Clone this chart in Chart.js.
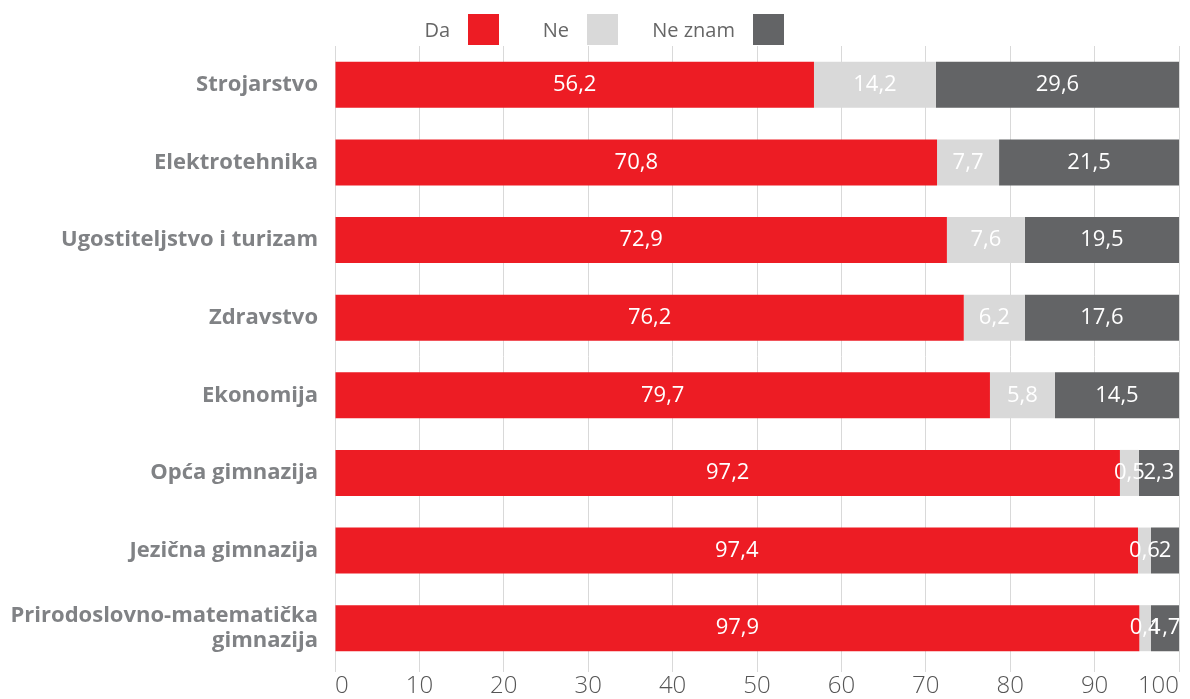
<!DOCTYPE html>
<html><head><meta charset="utf-8">
<script src="https://cdn.jsdelivr.net/npm/chart.js@4/dist/chart.umd.min.js"></script>
<style>
html,body{margin:0;padding:0;background:#fff;}
#wrap{position:relative;width:1190px;height:699px;}
#legend{position:absolute;top:14px;left:0;width:1190px;height:31px;font-family:"Open Sans",sans-serif;font-size:20px;color:#666;}
.lt{position:absolute;top:0;height:31px;line-height:31px;text-align:right;width:200px;}
.lb{position:absolute;top:0;width:31px;height:31px;}
canvas{position:absolute;left:0;top:0;}
</style></head>
<body><div id="wrap"><canvas id="c" width="1190" height="699"></canvas><div id="legend"></div></div>
<script>
const categories = ["Strojarstvo","Elektrotehnika","Ugostiteljstvo i turizam","Zdravstvo","Ekonomija","Opća gimnazija","Jezična gimnazija",["Prirodoslovno-matematička","gimnazija"]];
const seriesNames = ["Da","Ne","Ne znam"];
// bar lengths as drawn in the picture
const daValues    = [56.75, 71.33, 72.5, 74.5, 77.6, 93.0, 95.14, 95.3];
const neValues    = [14.45, 7.35, 9.24, 7.23, 7.7, 2.25, 1.54, 1.38];
const neZnamValues= [28.8, 21.32, 18.26, 18.27, 14.7, 4.75, 3.32, 3.32];
// value labels as printed in the picture
const daLabels    = ["56,2","70,8","72,9","76,2","79,7","97,2","97,4","97,9"];
const neLabels    = ["14,2","7,7","7,6","6,2","5,8","0,5","0,6","0,4"];
const neZnamLabels= ["29,6","21,5","19,5","17,6","14,5","2,3","2","1,7"];
const xTicks = [0,10,20,30,40,50,60,70,80,90,100];

const colors = ["#ED1C24","#D9D9D9","#636466"];
const labelSets = [daLabels, neLabels, neZnamLabels];

// legend (text before box)
const legendBoxX = [468, 587, 753];
const lg = document.getElementById('legend');
seriesNames.forEach((n,i)=>{
  const t=document.createElement('div'); t.className='lt'; t.textContent=n;
  t.style.left=(legendBoxX[i]-18-200)+'px'; lg.appendChild(t);
  const b=document.createElement('div'); b.className='lb'; b.style.left=legendBoxX[i]+'px';
  b.style.background=colors[i]; lg.appendChild(b);
});

const valueLabelPlugin = {
  id:'valueLabels',
  afterDatasetsDraw(chart){
    const ctx=chart.ctx;
    ctx.save();
    ctx.font='22px "Open Sans", sans-serif';
    ctx.fillStyle='#fff';
    ctx.textAlign='center';
    ctx.textBaseline='middle';
    chart.data.datasets.forEach((ds,di)=>{
      const meta=chart.getDatasetMeta(di);
      meta.data.forEach((el,i)=>{
        const p=el.getProps(['x','y','base'],true);
        const cx=(p.x+p.base)/2;
        ctx.fillText(labelSets[di][i], cx, p.y);
      });
    });
    ctx.restore();
  }
};

new Chart(document.getElementById('c'),{
  type:'bar',
  data:{
    labels:categories,
    datasets:[
      {label:seriesNames[0],data:daValues,backgroundColor:colors[0]},
      {label:seriesNames[1],data:neValues,backgroundColor:colors[1]},
      {label:seriesNames[2],data:neZnamValues,backgroundColor:colors[2]}
    ]
  },
  options:{
    indexAxis:'y',
    responsive:false,
    animation:false,
    datasets:{bar:{barPercentage:0.593/0.9,categoryPercentage:0.9,borderWidth:0}},
    layout:{padding:{top:46,right:11,left:0,bottom:0}},
    plugins:{legend:{display:false},tooltip:{enabled:false}},
    scales:{
      x:{
        stacked:true,min:0,max:100,
        afterBuildTicks(s){s.ticks=xTicks.map(v=>({value:v}));},
        afterFit(s){s.paddingLeft=0;s.paddingRight=0;s.height=32;},
        grid:{color:'#D9D9D9',lineWidth:1,tickLength:5,drawTicks:true},
        border:{display:false},
        ticks:{color:'#555',padding:0,align:'inner',font:{family:'"Open Sans", sans-serif',size:24,weight:'300'},maxRotation:0}
      },
      y:{
        stacked:true,
        afterFit(s){s.width=335;},
        grid:{display:false},
        border:{display:true,color:'#D9D9D9'},
        ticks:{color:'#808285',padding:9,font:{family:'"Open Sans", sans-serif',size:22,weight:'bold',lineHeight:1.1}}
      }
    }
  },
  plugins:[valueLabelPlugin]
});
</script></body></html>
